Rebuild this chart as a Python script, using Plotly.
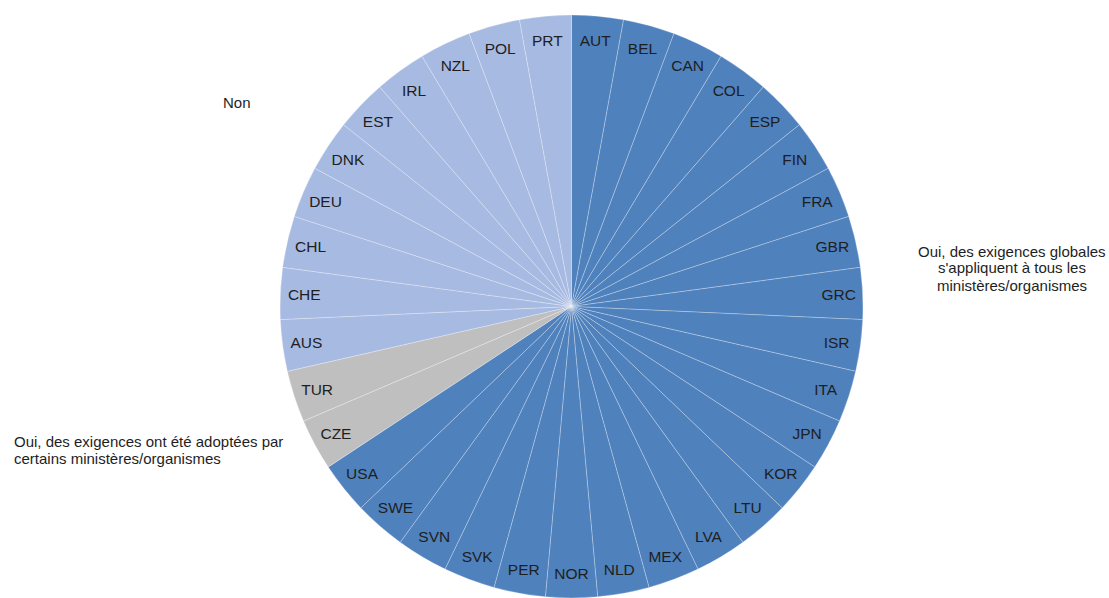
import plotly.graph_objects as go

# Countries grouped by answer, listed clockwise from 12 o'clock
oui_global = ["AUT", "BEL", "CAN", "COL", "ESP", "FIN", "FRA", "GBR", "GRC", "ISR",
              "ITA", "JPN", "KOR", "LTU", "LVA", "MEX", "NLD", "NOR", "PER", "SVK",
              "SVN", "SWE", "USA"]
oui_certains = ["CZE", "TUR"]
non = ["AUS", "CHE", "CHL", "DEU", "DNK", "EST", "IRL", "NZL", "POL", "PRT"]

# One slice per country
weight_per_country = 1

group_names = [
    "Oui, des exigences globales s'appliquent à tous les ministères/organismes",
    "Oui, des exigences ont été adoptées par certains ministères/organismes",
    "Non",
]
group_colors = ["#4F81BD", "#BFBFBF", "#A7BAE2"]
groups = [oui_global, oui_certains, non]

labels, values, colors = [], [], []
for members, col in zip(groups, group_colors):
    for c in members:
        labels.append(c)
        values.append(weight_per_country)
        colors.append(col)

FONT = "Liberation Sans, Arial, sans-serif"

fig = go.Figure(go.Pie(
    labels=labels,
    values=values,
    sort=False,
    direction="clockwise",
    rotation=0,
    textinfo="label",
    textposition="inside",
    insidetextorientation="horizontal",
    textfont=dict(family=FONT, size=15.5, color="#1e1e1e"),
    marker=dict(colors=colors, line=dict(color="rgba(255,255,255,0.45)", width=0.6)),
    domain=dict(x=[0.2525, 0.7782], y=[0.0, 0.975]),
    showlegend=False,
    hoverinfo="label",
))

W, H = 1109, 598


def add_lines(lines, x_px, y_px_first, align, step=17):
    for i, line in enumerate(lines):
        fig.add_annotation(
            x=x_px / W, y=1 - (y_px_first + i * step) / H,
            xref="paper", yref="paper",
            text=line, showarrow=False,
            xanchor=align, yanchor="middle",
            font=dict(family=FONT, size=15, color="#1e1e1e"),
        )


add_lines(["Non"], 237, 102, "center")
add_lines(["Oui, des exigences globales", "s'appliquent à tous les", "ministères/organismes"],
          1012, 251, "center")
add_lines(["Oui, des exigences ont été adoptées par", "certains ministères/organismes"],
          12, 441, "left")

fig.update_layout(
    width=W, height=H,
    margin=dict(l=0, r=0, t=0, b=0),
    paper_bgcolor="white",
    plot_bgcolor="white",
)

fig.write_html("out.html")
